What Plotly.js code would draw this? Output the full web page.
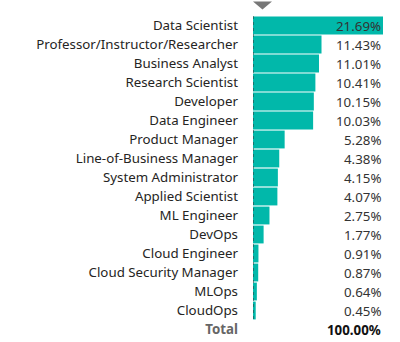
<!DOCTYPE html>
<html>
<head>
<meta charset="utf-8">
<script src="https://cdn.plot.ly/plotly-3.0.1.min.js"></script>
<style>html,body{margin:0;padding:0;background:#fff;}#chart{width:400px;height:342px;}</style>
</head>
<body>
<div id="chart"></div>
<script>
const roles = ["Data Scientist","Professor/Instructor/Researcher","Business Analyst","Research Scientist","Developer","Data Engineer","Product Manager","Line-of-Business Manager","System Administrator","Applied Scientist","ML Engineer","DevOps","Cloud Engineer","Cloud Security Manager","MLOps","CloudOps"];
const shares = [21.69,11.43,11.01,10.41,10.15,10.03,5.28,4.38,4.15,4.07,2.75,1.77,0.91,0.87,0.64,0.45];
const totalLabel = "Total";
const totalValue = 100.00;

const cats = roles.concat([totalLabel]);
const tickText = roles.concat(['<b><span style="color:#666666">' + totalLabel + '</span></b>']);
const FONT = "'Noto Sans', 'Open Sans', sans-serif";

const trace = {
  type: 'bar',
  orientation: 'h',
  y: roles,
  x: shares,
  marker: {color: '#01B8AA', line: {width: 0}},
  hoverinfo: 'skip'
};

const annotations = roles.map((r, i) => ({
  xref: 'paper', x: 1.0, xanchor: 'right',
  yref: 'y', y: r, yanchor: 'middle',
  text: shares[i].toFixed(2) + '%',
  showarrow: false,
  font: {family: FONT, size: 13.3, color: '#333333'}
}));
annotations.push({
  xref: 'paper', x: 1.0, xanchor: 'right',
  yref: 'y', y: totalLabel, yanchor: 'middle',
  text: '<b>' + totalValue.toFixed(2) + '%</b>',
  showarrow: false,
  font: {family: FONT, size: 13.3, color: '#111111'}
});

const layout = {
  width: 400, height: 342,
  margin: {l: 253, r: 17, t: 15.5, b: 2.5, pad: 0},
  paper_bgcolor: '#ffffff', plot_bgcolor: '#ffffff',
  showlegend: false,
  bargap: 0.06,
  xaxis: {range: [0, Math.max(...shares)], visible: false, fixedrange: true},
  yaxis: {
    type: 'category',
    categoryorder: 'array', categoryarray: cats,
    tickmode: 'array', tickvals: cats, ticktext: tickText,
    range: [cats.length - 0.5, -0.5],
    showgrid: false, zeroline: false, showline: false, ticks: '',
    ticklabelstandoff: 14,
    tickfont: {family: FONT, size: 13.3, color: '#252423'}
  },
  annotations: annotations,
  shapes: [
    {type: 'line', xref: 'x', x0: 0, x1: 0, yref: 'y', y0: -0.5, y1: roles.length - 0.5,
     line: {color: '#333333', width: 1, dash: 'dot'}},
    {type: 'path', xref: 'paper', yref: 'paper',
     path: 'M 0,1.045 L 0.146,1.045 L 0.073,1.02 Z',
     fillcolor: '#777777', line: {width: 0}}
  ]
};

Plotly.newPlot('chart', [trace], layout, {staticPlot: true, displayModeBar: false});
</script>
</body>
</html>
